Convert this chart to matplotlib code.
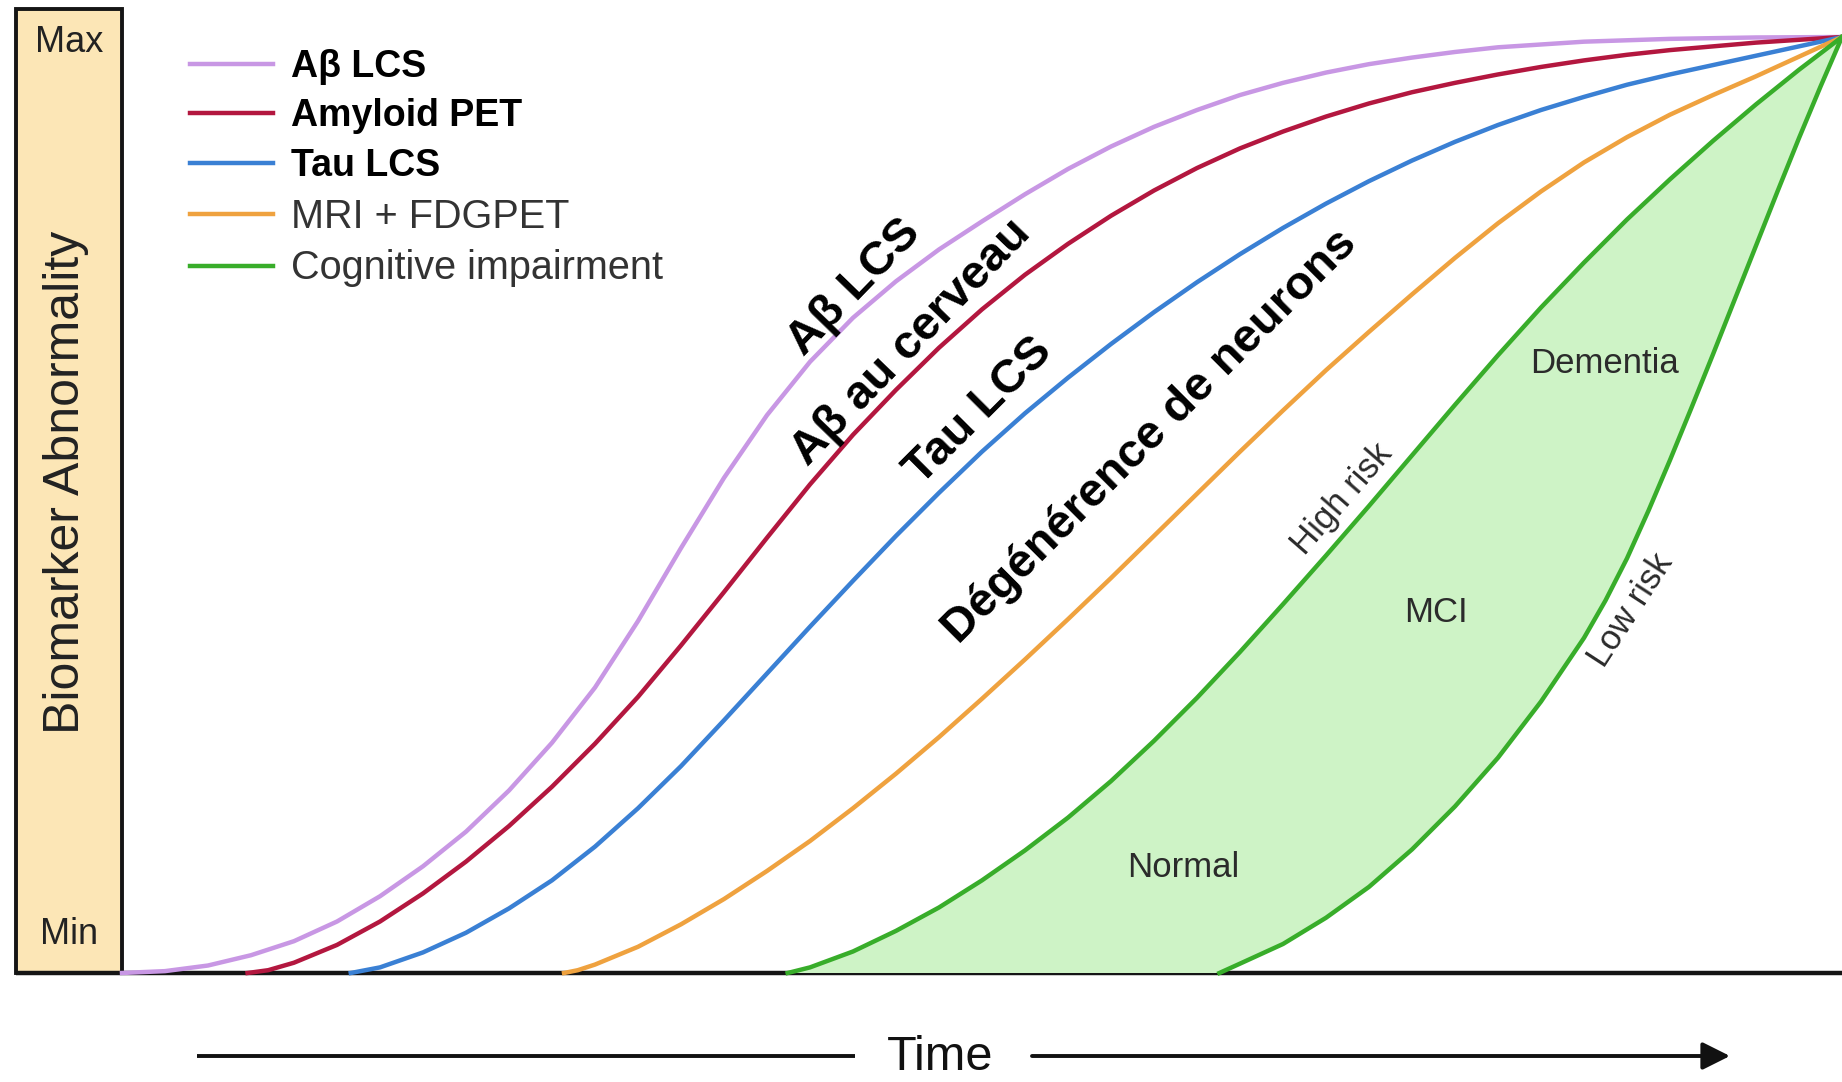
import numpy as np
import matplotlib.pyplot as plt
from matplotlib.patches import Rectangle

plt.rcParams['font.family'] = ['Liberation Sans', 'DejaVu Sans']

# curves: time 0..100 along the axis, abnormality 0 (Min) .. 100 (Max)
ab_csf_t = [0, 2.5, 5, 7.5, 10, 12.5, 15, 17.5, 20, 22.5, 25, 27.5, 30, 32.5, 35, 37.5, 40, 42.5,
            45, 47.5, 50, 52.5, 55, 57.5, 60, 62.5, 65, 67.5, 70, 72.5, 75, 77.5, 80, 85, 90, 95, 100]
ab_csf_v = [0, 0.2, 0.8, 1.9, 3.4, 5.5, 8.2, 11.4, 15.1, 19.5, 24.6, 30.5, 37.6, 45.4, 52.9, 59.6, 65.3, 70.0,
            73.9, 77.3, 80.3, 83.2, 85.9, 88.3, 90.4, 92.2, 93.8, 95.1, 96.2, 97.1, 97.8, 98.4, 98.9, 99.5, 99.8, 99.95, 100]

amyloid_pet_t = [7.3, 8.5, 10, 12.5, 15, 17.5, 20, 22.5, 25, 27.5, 30, 32.5, 35, 37.5, 40, 42.5, 45, 47.5, 50,
                 52.5, 55, 57.5, 60, 62.5, 65, 67.5, 70, 72.5, 75, 77.5, 80, 82.5, 85, 87.5, 90, 92.5, 95, 97.5, 100]
amyloid_pet_v = [0, 0.3, 1.1, 3.0, 5.5, 8.5, 11.9, 15.7, 19.9, 24.5, 29.5, 35.0, 40.7, 46.5, 52.2, 57.5, 62.3, 66.8, 70.9,
                 74.6, 77.9, 80.9, 83.6, 86.0, 88.1, 89.9, 91.5, 92.9, 94.1, 95.1, 96.0, 96.8, 97.5, 98.1, 98.6, 99.0, 99.4, 99.7, 100]

tau_csf_t = [13.3, 15, 17.5, 20, 22.5, 25, 27.5, 30, 32.5, 35, 37.5, 40, 42.5, 45, 47.5, 50, 52.5, 55, 57.5,
             60, 62.5, 65, 67.5, 70, 72.5, 75, 77.5, 80, 82.5, 85, 87.5, 90, 92.5, 95, 97.5, 100]
tau_csf_v = [0, 0.6, 2.2, 4.3, 6.9, 9.9, 13.5, 17.6, 22.1, 27.0, 32.0, 37.0, 41.9, 46.7, 51.3, 55.7, 59.8, 63.6, 67.2,
             70.6, 73.8, 76.8, 79.6, 82.2, 84.6, 86.8, 88.8, 90.6, 92.2, 93.6, 94.9, 96.0, 97.0, 98.0, 99.0, 100]

mri_fdg_t = [25.7, 26.5, 27.5, 30, 32.5, 35, 37.5, 40, 42.5, 45, 47.5, 50, 52.5, 55, 57.5, 60, 62.5, 65, 67.5,
             70, 72.5, 75, 77.5, 80, 82.5, 85, 87.5, 90, 92.5, 95, 97.5, 100]
mri_fdg_v = [0, 0.3, 0.9, 2.8, 5.2, 7.9, 10.9, 14.1, 17.6, 21.3, 25.2, 29.3, 33.5, 37.8, 42.2, 46.7, 51.2, 55.7, 60.1,
             64.4, 68.5, 72.5, 76.4, 80.1, 83.5, 86.6, 89.3, 91.7, 93.8, 95.8, 97.9, 100]

# cognitive impairment: high risk (early) and low risk (late) trajectories
cog_high_t = [38.7, 40, 42.5, 45, 47.5, 50, 52.5, 55, 57.5, 60, 62.5, 65, 67.5, 70, 72.5, 75, 77.5,
              80, 82.5, 85, 87.5, 90, 92.5, 95, 97.5, 100]
cog_high_v = [0, 0.6, 2.3, 4.5, 7.0, 9.9, 13.1, 16.6, 20.5, 24.8, 29.4, 34.3, 39.4, 44.6, 49.9, 55.3, 60.7,
              66.0, 71.1, 75.9, 80.5, 84.8, 88.9, 92.8, 96.5, 100]
cog_low_t = [63.8, 65, 67.5, 70, 72.5, 75, 77.5, 80, 82.5, 85, 86.25, 87.5, 88.75, 90, 91.25, 92.5,
             93.75, 95, 96.25, 97.5, 98.75, 100]
cog_low_v = [0, 1.0, 3.1, 5.9, 9.2, 13.2, 17.8, 23.0, 29.0, 35.8, 39.8, 44.3, 49.4, 54.8, 60.4, 66.1,
             71.9, 77.7, 83.5, 89.2, 94.7, 100]

legend_labels = ['A\u03b2 LCS', 'Amyloid PET', 'Tau LCS', 'MRI + FDGPET', 'Cognitive impairment']
legend_bold = [True, True, True, False, False]
curve_labels = ['A\u03b2 LCS', 'A\u03b2 au cerveau', 'Tau LCS', 'D\u00e9g\u00e9n\u00e9rence de neurons']
stage_labels = ['Normal', 'MCI', 'Dementia']
risk_labels = ['High risk', 'Low risk']

colors = ['#c897e4', '#b3173f', '#3a80d4', '#efa23f', '#38ad2a']
fill_green = '#cef3c6'

W, H = 1842, 1082
fig = plt.figure(figsize=(W / 100, H / 100), dpi=100)

# decoration layer in pixel coordinates
deco = fig.add_axes([0, 0, 1, 1], zorder=0)
deco.set_xlim(0, W)
deco.set_ylim(H, 0)
deco.axis('off')
deco.add_patch(Rectangle((16, 9), 106, 964, facecolor='#fce6b6', edgecolor='#151515', linewidth=2.8))
deco.plot([16, W], [973, 973], color='#151515', lw=3.2, solid_capstyle='butt')
deco.text(69, 42, 'Max', ha='center', va='center', fontsize=26, color='#222222')
deco.text(69, 934, 'Min', ha='center', va='center', fontsize=26, color='#222222')
deco.text(66, 482, 'Biomarker Abnormality', rotation=90, ha='center', va='center',
          fontsize=36, color='#222222')

# time arrow
deco.plot([197, 855], [1056, 1056], color='#111111', lw=2.8, solid_capstyle='butt')
deco.annotate('', xy=(1730, 1056), xytext=(1032, 1056),
              arrowprops=dict(arrowstyle='-|>', lw=2.8, color='#111111', mutation_scale=42,
                              shrinkA=0, shrinkB=0))
deco.text(940, 1070, 'Time', ha='center', va='baseline', fontsize=35, color='#111111')

# main plotting area
ax = fig.add_axes([122 / W, (H - 973) / H, (W - 122) / W, (973 - 37) / H], zorder=1)
ax.set_xlim(0, 100)
ax.set_ylim(0, 100)
ax.axis('off')
ax.patch.set_alpha(0)

ax.fill(np.r_[cog_high_t, cog_low_t[::-1]], np.r_[cog_high_v, cog_low_v[::-1]],
        color=fill_green, lw=0, zorder=1)

lw = 3.2
kw = dict(lw=lw, clip_on=False, zorder=3, solid_joinstyle='round')
h_ab, = ax.plot(ab_csf_t, ab_csf_v, color=colors[0], **kw)
h_pet, = ax.plot(amyloid_pet_t, amyloid_pet_v, color=colors[1], **kw)
h_tau, = ax.plot(tau_csf_t, tau_csf_v, color=colors[2], **kw)
h_mri, = ax.plot(mri_fdg_t, mri_fdg_v, color=colors[3], **kw)
h_cog, = ax.plot(cog_high_t, cog_high_v, color=colors[4], **kw)
ax.plot(cog_low_t, cog_low_v, color=colors[4], **kw)

leg = ax.legend([h_ab, h_pet, h_tau, h_mri, h_cog], legend_labels, loc='upper left',
                bbox_to_anchor=(190 / W, 1 - 49 / H), bbox_transform=fig.transFigure,
                frameon=False, fontsize=27, handlelength=2.2, handletextpad=0.5,
                labelspacing=0.36, borderpad=0, borderaxespad=0)
for t, bold in zip(leg.get_texts(), legend_bold):
    if bold:
        t.set_fontweight('bold')
        t.set_color('black')
    else:
        t.set_color('#333333')
        t.set_fontsize(28.5)

# labels along the curves
label_kw = dict(ha='center', va='center', fontsize=34, fontweight='bold',
                rotation_mode='anchor', color='black')
ax.text(42.6, 73.2, curve_labels[0], rotation=46, **label_kw)
ax.text(45.9, 67.3, curve_labels[1], rotation=46, **label_kw)
ax.text(49.8, 60.0, curve_labels[2], rotation=45, **label_kw)
ax.text(59.8, 57.3, curve_labels[3], rotation=45, **label_kw)

stage_kw = dict(ha='center', va='center', fontsize=25, color='#2b2b2b')
ax.text(61.7, 11.3, stage_labels[0], **stage_kw)
ax.text(76.4, 38.5, stage_labels[1], **stage_kw)
ax.text(86.2, 65.1, stage_labels[2], **stage_kw)
ax.text(70.9, 50.6, risk_labels[0], rotation=49, rotation_mode='anchor', **stage_kw)
ax.text(87.7, 38.7, risk_labels[1], rotation=57, rotation_mode='anchor', **stage_kw)

fig.savefig('out.png', dpi=100, facecolor='white')
